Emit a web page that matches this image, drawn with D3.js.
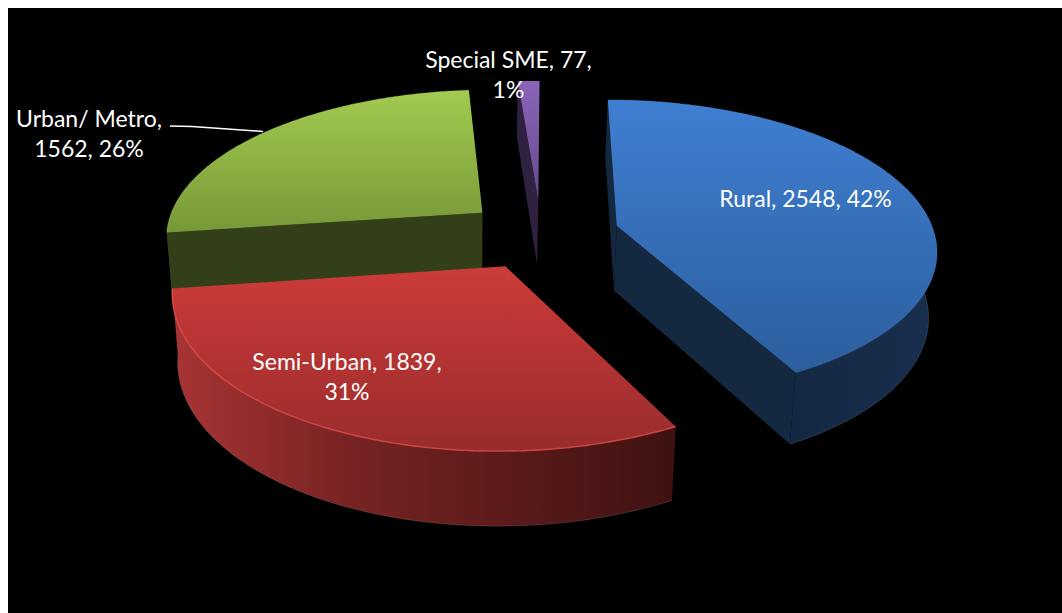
<!DOCTYPE html>
<html>
<head>
<meta charset="utf-8">
<script src="https://cdn.jsdelivr.net/npm/d3@7"></script>
<style>
    html, body {margin: 0; padding: 0; background: #fff; overflow: hidden;}
    svg {display: block;}
</style>
</head>
<body>
<div id="c1"></div>
<script>
// Chart values
const categories = ["Rural", "Semi-Urban", "Urban/ Metro", "Special SME"];
const values = [2548, 1839, 1562, 77];
const percents = [42, 31, 26, 1];
// how many of the 3 label parts go on the first line
const labelBreaks = [3, 2, 1, 2];

// Colours
const topColors = [["#3f7fd2", "#2c5e9d"], ["#cc3b39", "#9a2c2c"], ["#a2cb50", "#789838"], ["#8b64b8", "#664a8c"]];
const rimColors = [["#101f33", "#182f4e"], ["#a83434", "#7a2424", "#5c1a1a", "#3e1212"], ["#333f18", "#333f18"], ["#2e2240", "#2e2240"]];
const wallColors = ["#14283f", "#3e1212", "#333f18", "#2e2240"];
const edgeColors = ["#5b93dc", "#e9504c", "#b4d868", "#a280cc"];
const edgeOpacity = [0.2, 0.8, 0.2, 0];
const bottomEdgeOpacity = [0.3, 0.3, 0, 0];

function c1() {
    const width = 1062;
    const height = 613;
    const margin = {l: 8, t: 8};

    // Perspective of the pie floor: disc units -> screen pixels
    const view = {cx: 541, cy: 234.5, a: 318, b: 147, skew: 1, g: 0.148, depth: 65, gz: 0.11, shrink: 0.018, pivot: 470};
    const explode = [0.247, 0.236, 0.242, 0.236];

    function project(u, v, z) {
        const w = 1 + view.g * v;
        const x = view.cx + (view.a * u + view.skew * v) / w;
        const y = view.cy - view.b * v / w;
        return [
            x - view.shrink * z * (x - view.pivot),
            y + z * view.depth / (1 + view.gz * v)
        ];
    }

    const svg = d3.select("#c1")
        .append("svg")
        .attr("width", width)
        .attr("height", height);

    svg.append("rect")
        .attr("width", "100%")
        .attr("height", "100%")
        .attr("fill", "#fff");
    svg.append("rect")
        .attr("x", margin.l)
        .attr("y", margin.t)
        .attr("width", width - margin.l)
        .attr("height", height - margin.t)
        .attr("fill", "#000");

    const defs = svg.append("defs");
    function gradient(id, colors, horizontal) {
        const g = defs.append("linearGradient")
            .attr("id", id)
            .attr("x1", 0).attr("y1", 0)
            .attr("x2", horizontal ? 1 : 0).attr("y2", horizontal ? 0 : 1);
        colors.forEach(function(c, k) {
            g.append("stop")
                .attr("offset", (100 * k / (colors.length - 1)) + "%")
                .attr("stop-color", c);
        });
    }
    categories.forEach(function(c, i) {
        gradient("top" + i, topColors[i], false);
        gradient("rim" + i, rimColors[i], true);
    });

    const slices = d3.pie().sort(null)(values).map(function(d, i) {
        const mid = (d.startAngle + d.endAngle) / 2;
        d.ou = explode[i] * Math.sin(mid);
        d.ov = explode[i] * Math.cos(mid);
        return d;
    });

    const line = d3.line();
    const closed = d3.line().curve(d3.curveLinearClosed);

    function arcPoints(d, z) {
        const n = Math.ceil((d.endAngle - d.startAngle) / 0.01);
        return d3.range(n + 1).map(function(k) {
            const a = d.startAngle + (d.endAngle - d.startAngle) * k / n;
            return project(d.ou + Math.sin(a), d.ov + Math.cos(a), z);
        });
    }
    function radialWall(d, a) {
        return [
            project(d.ou, d.ov, 0),
            project(d.ou + Math.sin(a), d.ov + Math.cos(a), 0),
            project(d.ou + Math.sin(a), d.ov + Math.cos(a), 1),
            project(d.ou, d.ov, 1)
        ];
    }

    // back to front
    const order = d3.range(slices.length).sort(function(a, b) {
        return d3.descending(slices[a].ov, slices[b].ov);
    });

    const pie = svg.append("g").attr("class", "pie");
    order.forEach(function(i) {
        const d = slices[i];
        const g = pie.append("g").attr("class", "slice");

        const rim = arcPoints(d, 0).concat(arcPoints(d, 1).reverse());
        g.append("path")
            .attr("d", closed(rim))
            .attr("fill", "url(#rim" + i + ")");

        // thin grey edge along the bottom of the wall
        g.append("path")
            .attr("d", line(arcPoints(d, 1)))
            .attr("fill", "none")
            .attr("stroke", "#aab4c0")
            .attr("stroke-opacity", bottomEdgeOpacity[i])
            .attr("stroke-width", 0.6);

        // only the radial walls that face the viewer
        const startWall = radialWall(d, d.startAngle);
        const endWall = radialWall(d, d.endAngle);
        if (d3.polygonArea(startWall) > 0) {
            g.append("path").attr("d", closed(startWall)).attr("fill", wallColors[i]);
        }
        if (d3.polygonArea(endWall) < 0) {
            g.append("path").attr("d", closed(endWall)).attr("fill", wallColors[i]);
        }

        const top = [project(d.ou, d.ov, 0)].concat(arcPoints(d, 0));
        g.append("path")
            .attr("d", closed(top))
            .attr("fill", "url(#top" + i + ")");
        g.append("path")
            .attr("d", line(arcPoints(d, 0)))
            .attr("fill", "none")
            .attr("stroke", edgeColors[i])
            .attr("stroke-opacity", edgeOpacity[i])
            .attr("stroke-width", 1.4);
    });

    // Leader line of the Urban label
    svg.append("path")
        .attr("d", line([[170, 126], [192, 126.5], [263, 131.5]]))
        .attr("fill", "none")
        .attr("stroke", "#fff")
        .attr("stroke-width", 1.5);

    // Labels
    const labelPos = [[805.5, 207], [347, 370], [89, 126.5], [508.5, 68]];
    const labelLead = 30;
    categories.forEach(function(c, i) {
        const parts = [c + ",", values[i] + ",", percents[i] + "%"];
        const rows = [parts.slice(0, labelBreaks[i]).join(" ")];
        if (labelBreaks[i] < 3) rows.push(parts.slice(labelBreaks[i]).join(" "));
        svg.append("g").selectAll("text")
            .data(rows)
            .enter()
            .append("text")
            .attr("x", labelPos[i][0])
            .attr("y", function(r, k) {return labelPos[i][1] + k * labelLead})
            .attr("text-anchor", "middle")
            .attr("fill", "#fff")
            .style("font-family", "Lato, 'Open Sans', sans-serif")
            .style("font-size", "23px")
            .text(function(r) {return r});
    });
}

c1();
</script>
</body>
</html>
